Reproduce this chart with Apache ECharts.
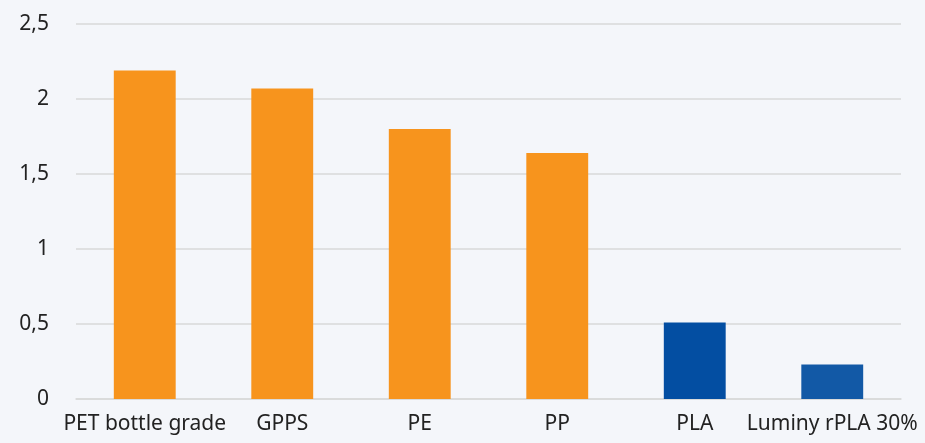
<!DOCTYPE html>
<html><head><meta charset="utf-8">
<style>html,body{margin:0;padding:0;background:#f4f6fa;}#c{width:925px;height:443px;}</style>
<script src="https://cdn.jsdelivr.net/npm/echarts@6/dist/echarts.min.js"></script>
</head><body><div id="c"></div>
<script>
const categories = ['PET bottle grade','GPPS','PE','PP','PLA','Luminy rPLA 30%'];
const values = [2.19, 2.07, 1.80, 1.64, 0.51, 0.23];
const barColors = ['#f7941d','#f7941d','#f7941d','#f7941d','#034ea2','#1259a6'];
const chart = echarts.init(document.getElementById('c'));
chart.setOption({
  backgroundColor: '#f4f6fa',
  animation: false,
  grid: {left: 76, right: 24, top: 24, bottom: 44, containLabel: false},
  xAxis: {
    type: 'category', data: categories,
    axisLine: {show: true, lineStyle: {color: '#d9d9d9', width: 1.5}},
    axisTick: {show: false},
    axisLabel: {color: '#222', fontFamily: 'Noto Sans', fontSize: 21, margin: 15, interval: 0}
  },
  yAxis: {
    type: 'value', min: 0, max: 2.5, interval: 0.5,
    axisLine: {show: false}, axisTick: {show: false},
    splitLine: {lineStyle: {color: '#d9d9d9', width: 1.5}},
    axisLabel: {color: '#222', fontFamily: 'Noto Sans', fontSize: 21, margin: 27,
      formatter: v => String(v).replace('.', ',')}
  },
  series: [{
    type: 'bar', barWidth: '45%',
    data: values.map((v, i) => ({value: v, itemStyle: {color: barColors[i]}}))
  }]
});
</script></body></html>
